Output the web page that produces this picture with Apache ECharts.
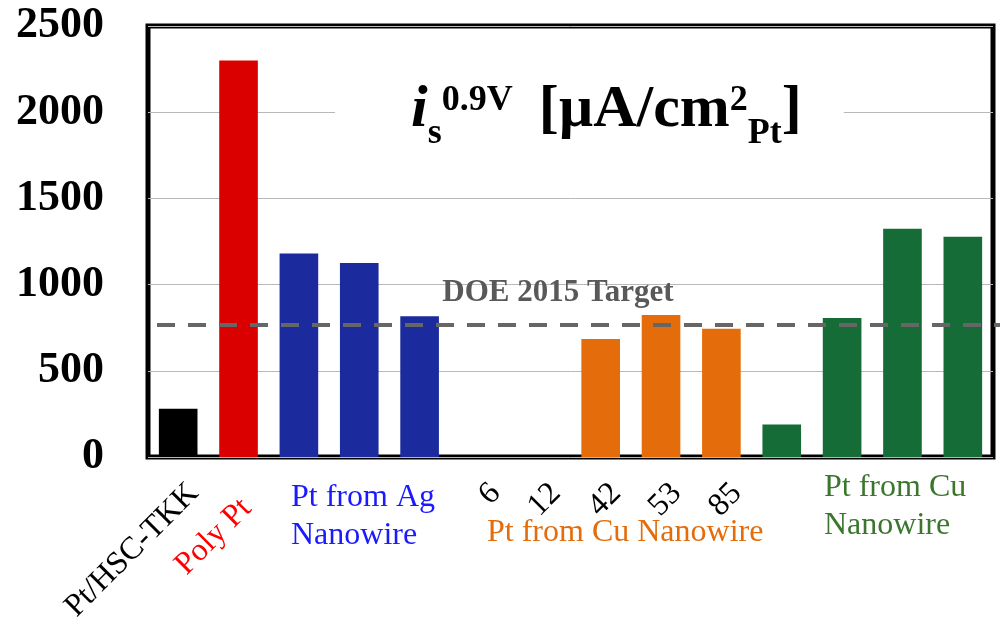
<!DOCTYPE html>
<html>
<head>
<meta charset="utf-8">
<script src="https://cdn.jsdelivr.net/npm/echarts@6/dist/echarts.min.js"></script>
<style>
  html, body { margin: 0; padding: 0; background: #fff; }
  #chart { width: 1000px; height: 627px; }
</style>
</head>
<body>
<div id="chart"></div>
<script>
// Specific activity at 0.9 V for the catalysts, grouped by origin
const categories = ['Pt/HSC-TKK', 'Poly Pt', 'Ag NW a', 'Ag NW b', 'Ag NW c',
  'Cu NW 6', 'Cu NW 12', 'Cu NW 42', 'Cu NW 53', 'Cu NW 85',
  'Cu NW d', 'Cu NW e', 'Cu NW f', 'Cu NW g'];
const tickLabels = ['Pt/HSC-TKK', 'Poly Pt', '', '', '', '6', '12', '42', '53', '85', '', '', '', ''];
const specificActivity = [280, 2300, 1180, 1126, 816, 0, 0, 684, 824, 744, 188, 806, 1324, 1277];
const groups = ['ref', 'poly', 'ag', 'ag', 'ag', 'cu', 'cu', 'cu', 'cu', 'cu', 'cuNW', 'cuNW', 'cuNW', 'cuNW'];
const yMin = 0, yMax = 2500, yStep = 500;
const doeTarget = 765;
const targetLabel = 'DOE 2015 Target';
const groupNames = ['Pt from Ag\nNanowire', 'Pt from Cu Nanowire', 'Pt from Cu\nNanowire'];

const SERIF = '"Liberation Serif", "Times New Roman", serif';
const barColors = { ref: '#000000', poly: '#db0000', ag: '#1b2a9c', cu: '#e46c0a', cuNW: '#156c37' };

const chart = echarts.init(document.getElementById('chart'), null, { renderer: 'canvas' });

const titleFont = { fontFamily: SERIF, fontWeight: 'bold', color: '#000', verticalAlign: 'bottom' };
const big = Object.assign({}, titleFont, { fontSize: 60, lineHeight: 60, padding: [0, 0, 16, 0] });
const sup = Object.assign({}, titleFont, { fontSize: 36, lineHeight: 36, padding: [0, 0, 37, 0] });
const sub = Object.assign({}, titleFont, { fontSize: 36, lineHeight: 36, padding: [0, 0, 4, 0] });

const option = {
  animation: false,
  backgroundColor: '#ffffff',
  title: {
    text: '{i|i}{sub|s}{sup|0.9V}{unit|[µA/cm}{sup|2}{sub|Pt}{big|]}',
    left: 335,
    top: 82,
    padding: [14, 42, 10, 76],
    backgroundColor: '#ffffff',
    textStyle: {
      rich: {
        i: Object.assign({}, big, { fontStyle: 'italic' }),
        big: big,
        unit: Object.assign({}, big, { padding: [0, 0, 16, 26] }),
        sup: sup,
        sub: sub
      }
    }
  },
  grid: {
    left: 148, right: 7, top: 26, bottom: 170,
    show: true, borderColor: '#000', borderWidth: 5, backgroundColor: 'transparent'
  },
  xAxis: {
    type: 'category',
    data: categories,
    axisLine: { show: false },
    axisTick: { show: false },
    splitLine: { show: false },
    axisLabel: {
      interval: 0,
      rotate: 45,
      margin: 16,
      padding: [44, 0, 0, 0],
      fontFamily: SERIF,
      fontSize: 32,
      color: '#000',
      formatter: function (v, i) {
        const t = tickLabels[i];
        if (!t) return '';
        return i === 1 ? '{r|' + t + '}' : t;
      },
      rich: {
        r: { color: '#ff0000', fontFamily: SERIF, fontSize: 32, padding: [11, 16, 0, 0] }
      }
    }
  },
  yAxis: {
    type: 'value',
    min: yMin, max: yMax, interval: yStep,
    axisLine: { show: false },
    axisTick: { show: false },
    splitLine: { lineStyle: { color: '#b8b8b8', width: 1 } },
    axisLabel: {
      margin: 44,
      fontFamily: SERIF,
      fontWeight: 'bold',
      fontSize: 44,
      color: '#000',
      formatter: function (v) { return String(v); }
    }
  },
  series: [{
    id: 'activity',
    type: 'bar',
    clip: false,
    barWidth: '64%',
    data: specificActivity.map((v, i) => ({ value: v, itemStyle: { color: barColors[groups[i]] } })),
    markLine: {
      silent: true,
      symbol: ['none', 'none'],
      lineStyle: { color: '#666666', width: 4, type: [18, 13] },
      label: {
        show: true,
        position: 'insideMiddleTop',
        distance: 17,
        padding: [0, 41, 0, 0],
        formatter: targetLabel,
        fontFamily: SERIF,
        fontWeight: 'bold',
        fontSize: 31,
        color: '#595959'
      },
      data: [{ yAxis: doeTarget }]
    }
  }],
  graphic: [
    {
      type: 'text', x: 291, y: 479,
      style: { text: groupNames[0], font: '32px ' + SERIF, fill: '#1a1aff', lineHeight: 38, align: 'left', verticalAlign: 'top' }
    },
    {
      type: 'text', x: 487, y: 533,
      style: { text: groupNames[1], font: '32px ' + SERIF, fill: '#e46c0a', align: 'left', verticalAlign: 'middle' }
    },
    {
      type: 'text', x: 824, y: 469,
      style: { text: groupNames[2], font: '32px ' + SERIF, fill: '#3a772d', lineHeight: 38, align: 'left', verticalAlign: 'top' }
    }
  ]
};

chart.setOption(option);

// Run the target line slightly past the frame, at the height given by the value axis
const yPx = chart.convertToPixel({ yAxisIndex: 0 }, doeTarget);
chart.setOption({
  series: [{ id: 'activity', markLine: { data: [[{ x: 157, y: yPx }, { x: 1000, y: yPx }]] } }]
});
</script>
</body>
</html>
